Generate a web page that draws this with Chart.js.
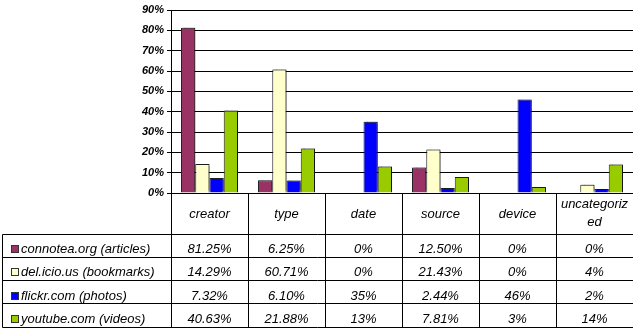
<!DOCTYPE html>
<html>
<head>
<meta charset="utf-8">
<script src="https://cdn.jsdelivr.net/npm/chart.js@4/dist/chart.umd.min.js"></script>
<style>
  html, body { margin: 0; padding: 0; background: #fff; }
  #wrap { width: 633px; height: 329px; position: relative; }
</style>
</head>
<body>
<div id="wrap"><canvas id="c" width="633" height="329"></canvas></div>
<script>
// ---- data ----
const categories = ["creator", "type", "date", "source", "device", ["uncategoriz", "ed"]];
const seriesNames = ["connotea.org (articles)", "del.icio.us (bookmarks)", "flickr.com (photos)", "youtube.com (videos)"];
const seriesColors = ["#993366", "#FFFFCC", "#0000FF", "#99CC00"];
const connotea = ["81.25", "6.25", "0", "12.50", "0", "0"];
const delicious = ["14.29", "60.71", "0", "21.43", "0", "4"];
const flickr = ["7.32", "6.10", "35", "2.44", "46", "2"];
const youtube = ["40.63", "21.88", "13", "7.81", "3", "14"];
const yTickValues = [0, 10, 20, 30, 40, 50, 60, 70, 80, 90];

const seriesValues = [connotea, delicious, flickr, youtube];

const TABLE_FONT = 'italic 13px "Liberation Sans", Arial, sans-serif';

const shadowPlugin = {
  id: 'barShadow',
  beforeDatasetsDraw(chart) {
    const ctx = chart.ctx;
    ctx.save();
    ctx.shadowColor = 'rgba(0,0,0,0.45)';
    ctx.shadowOffsetX = 1.5;
    ctx.shadowOffsetY = -1.5;
    ctx.shadowBlur = 1;
  },
  afterDatasetsDraw(chart) {
    chart.ctx.restore();
  }
};

const tablePlugin = {
  id: 'dataTable',
  afterDraw(chart) {
    const ctx = chart.ctx;
    const area = chart.chartArea;
    const xs = chart.scales.x;
    const n = categories.length;
    const cw = (area.right - area.left) / n;
    const headerBottom = 234;
    const rowH = 23.25;
    const tableLeft = 2.5;
    const nRows = seriesNames.length;
    const tableBottom = headerBottom + nRows * rowH;
    const crisp = v => Math.round(v - 0.5) + 0.5;

    ctx.save();
    ctx.strokeStyle = '#000';
    ctx.lineWidth = 1;
    ctx.beginPath();
    // vertical column lines
    for (let i = 0; i < n; i++) {
      const x = crisp(area.left + i * cw);
      ctx.moveTo(x, area.bottom);
      ctx.lineTo(x, crisp(tableBottom));
    }
    // left border of legend column
    ctx.moveTo(tableLeft, crisp(headerBottom));
    ctx.lineTo(tableLeft, crisp(tableBottom));
    // horizontal row lines
    for (let k = 0; k <= nRows; k++) {
      const y = crisp(headerBottom + k * rowH);
      ctx.moveTo(tableLeft, y);
      ctx.lineTo(area.right, y);
    }
    ctx.stroke();

    ctx.fillStyle = '#000';
    ctx.font = TABLE_FONT;
    ctx.textAlign = 'center';
    ctx.textBaseline = 'alphabetic';
    // header labels
    for (let i = 0; i < n; i++) {
      const cx = xs.getPixelForValue(i);
      const lab = categories[i];
      if (Array.isArray(lab)) {
        ctx.fillText(lab[0], cx, 208);
        ctx.fillText(lab[1], cx, 225.5);
      } else {
        ctx.fillText(lab, cx, 218);
      }
    }
    // rows
    for (let k = 0; k < nRows; k++) {
      const top = headerBottom + k * rowH;
      const base = top + 19;
      // swatch
      ctx.fillStyle = seriesColors[k];
      ctx.fillRect(11.5, Math.round(top + 11) + 0.5, 7, 7);
      ctx.strokeStyle = '#333';
      ctx.strokeRect(11.5, Math.round(top + 11) + 0.5, 7, 7);
      ctx.fillStyle = '#000';
      ctx.textAlign = 'left';
      ctx.fillText(seriesNames[k], 21, base);
      ctx.textAlign = 'center';
      for (let i = 0; i < n; i++) {
        const cx = xs.getPixelForValue(i);
        ctx.fillText(seriesValues[k][i] + '%', cx, base);
      }
    }
    ctx.restore();
  }
};

new Chart(document.getElementById('c'), {
  type: 'bar',
  data: {
    labels: categories,
    datasets: seriesNames.map((name, k) => ({
      label: name,
      data: seriesValues[k].map(Number),
      backgroundColor: seriesColors[k],
      borderColor: '#222',
      borderWidth: 1,
      borderSkipped: 'start',
      categoryPercentage: 0.74,
      barPercentage: 1.0
    }))
  },
  options: {
    responsive: false,
    animation: false,
    devicePixelRatio: 1,
    layout: { padding: { top: 10, right: 0, bottom: 136, left: 0 } },
    plugins: {
      legend: { display: false },
      tooltip: { enabled: false }
    },
    scales: {
      x: {
        display: false,
        offset: true
      },
      y: {
        min: 0,
        max: 90,
        afterBuildTicks(scale) {
          scale.ticks = yTickValues.map(v => ({ value: v }));
        },
        afterFit(scale) { scale.width = 171; },
        grid: {
          color: '#000',
          lineWidth: 1,
          drawTicks: true,
          tickLength: 4
        },
        border: { display: true, color: '#000', width: 1 },
        ticks: {
          padding: 3,
          color: '#000',
          font: { family: '"Liberation Sans", Arial, sans-serif', size: 11, style: 'italic', weight: 'bold' },
          callback: v => v + '%'
        }
      }
    }
  },
  plugins: [shadowPlugin, tablePlugin]
});
</script>
</body>
</html>
